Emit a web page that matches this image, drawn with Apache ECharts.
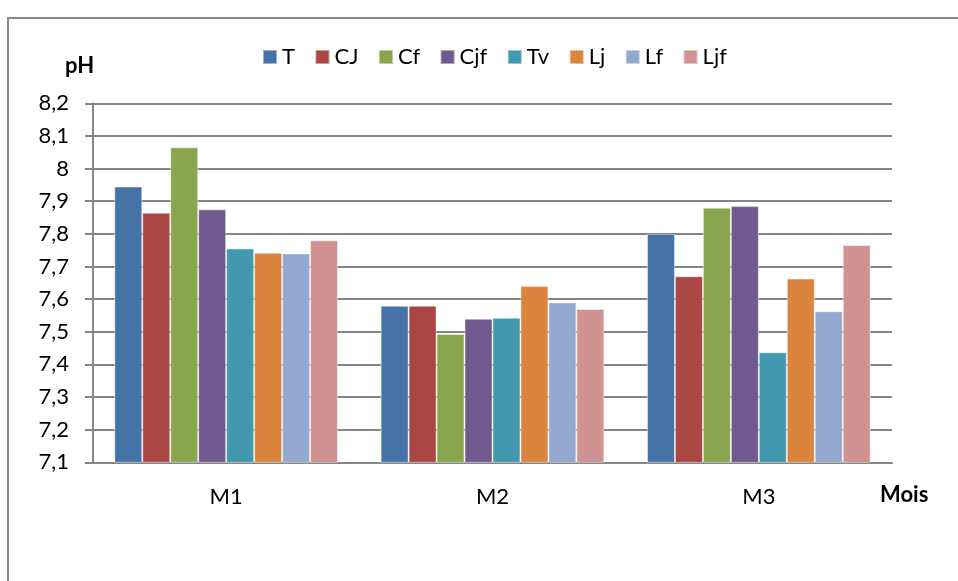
<!DOCTYPE html>
<html>
<head>
<meta charset="utf-8">
<script src="https://cdn.jsdelivr.net/npm/echarts@6/dist/echarts.min.js"></script>
<style>
  html, body { margin: 0; padding: 0; background: #fff; }
  #chart { width: 958px; height: 581px; }
</style>
</head>
<body>
<div id="chart"></div>
<script>
// Months on the x axis
const months = ['M1', 'M2', 'M3'];

// pH per treatment, one value per month
const T   = [7.945, 7.58, 7.80];
const CJ  = [7.865, 7.58, 7.67];
const Cf  = [8.065, 7.493, 7.88];
const Cjf = [7.875, 7.54, 7.885];
const Tv  = [7.755, 7.543, 7.437];
const Lj  = [7.742, 7.64, 7.663];
const Lf  = [7.74, 7.59, 7.563];
const Ljf = [7.78, 7.57, 7.766];

const seriesNames = ['T', 'CJ', 'Cf', 'Cjf', 'Tv', 'Lj', 'Lf', 'Ljf'];
const seriesData = [T, CJ, Cf, Cjf, Tv, Lj, Lf, Ljf];
const palette = ['#4572A7', '#AA4643', '#89A54E', '#71588F', '#4198AF', '#DB843D', '#93A9CF', '#D19392'];

// y axis range and step
const yMin = 7.1;
const yMax = 8.2;
const yStep = 0.1;

const font = 'Lato, "Liberation Sans", sans-serif';

const chart = echarts.init(document.getElementById('chart'), null, { renderer: 'canvas' });

chart.setOption({
  animation: false,
  color: palette,
  textStyle: { fontFamily: font },
  grid: { left: 93, right: 66, top: 103.3, bottom: 118.7, containLabel: false },
  legend: {
    top: 41,
    left: 257,
    icon: 'rect',
    itemWidth: 14,
    itemHeight: 14,
    itemGap: 19.5,
    textStyle: { fontFamily: font, fontSize: 22, color: '#000', padding: [0, 0, 0, 0] },
    data: seriesNames
  },
  xAxis: {
    type: 'category',
    data: months,
    axisLine: { lineStyle: { color: '#878787', width: 2 } },
    axisTick: { show: false },
    axisLabel: { color: '#000', fontSize: 22, fontFamily: font, margin: 24 },
    splitLine: { show: false }
  },
  yAxis: {
    type: 'value',
    min: yMin,
    max: yMax,
    interval: yStep,
    axisLine: { show: true, lineStyle: { color: '#878787', width: 2 } },
    axisTick: { show: true, length: 8, lineStyle: { color: '#878787', width: 2 } },
    axisLabel: {
      color: '#000', fontSize: 22, fontFamily: font, margin: 24,
      formatter: v => {
        const s = (Math.round(v * 10) / 10).toString();
        return s.replace('.', ',');
      }
    },
    splitLine: { show: true, lineStyle: { color: '#858585', width: 2 } }
  },
  series: seriesNames.map((name, i) => ({
    name: name,
    type: 'bar',
    data: seriesData[i],
    barGap: '0%',
    barCategoryGap: '16%',
    itemStyle: { borderColor: 'rgba(255,255,255,0.45)', borderWidth: 1 }
  })),
  graphic: [
    {
      type: 'rect',
      silent: true,
      shape: { x: 8, y: 18, width: 1000, height: 620 },
      style: { fill: 'none', stroke: '#878787', lineWidth: 2 },
      z: -1
    },
    {
      type: 'text',
      left: 65,
      top: 55,
      style: { text: 'pH', fontFamily: font, fontSize: 22, fontWeight: 'bold', fill: '#000' }
    },
    {
      type: 'text',
      left: 880,
      top: 484,
      style: { text: 'Mois', fontFamily: font, fontSize: 22, fontWeight: 'bold', fill: '#000' }
    }
  ]
});
</script>
</body>
</html>
